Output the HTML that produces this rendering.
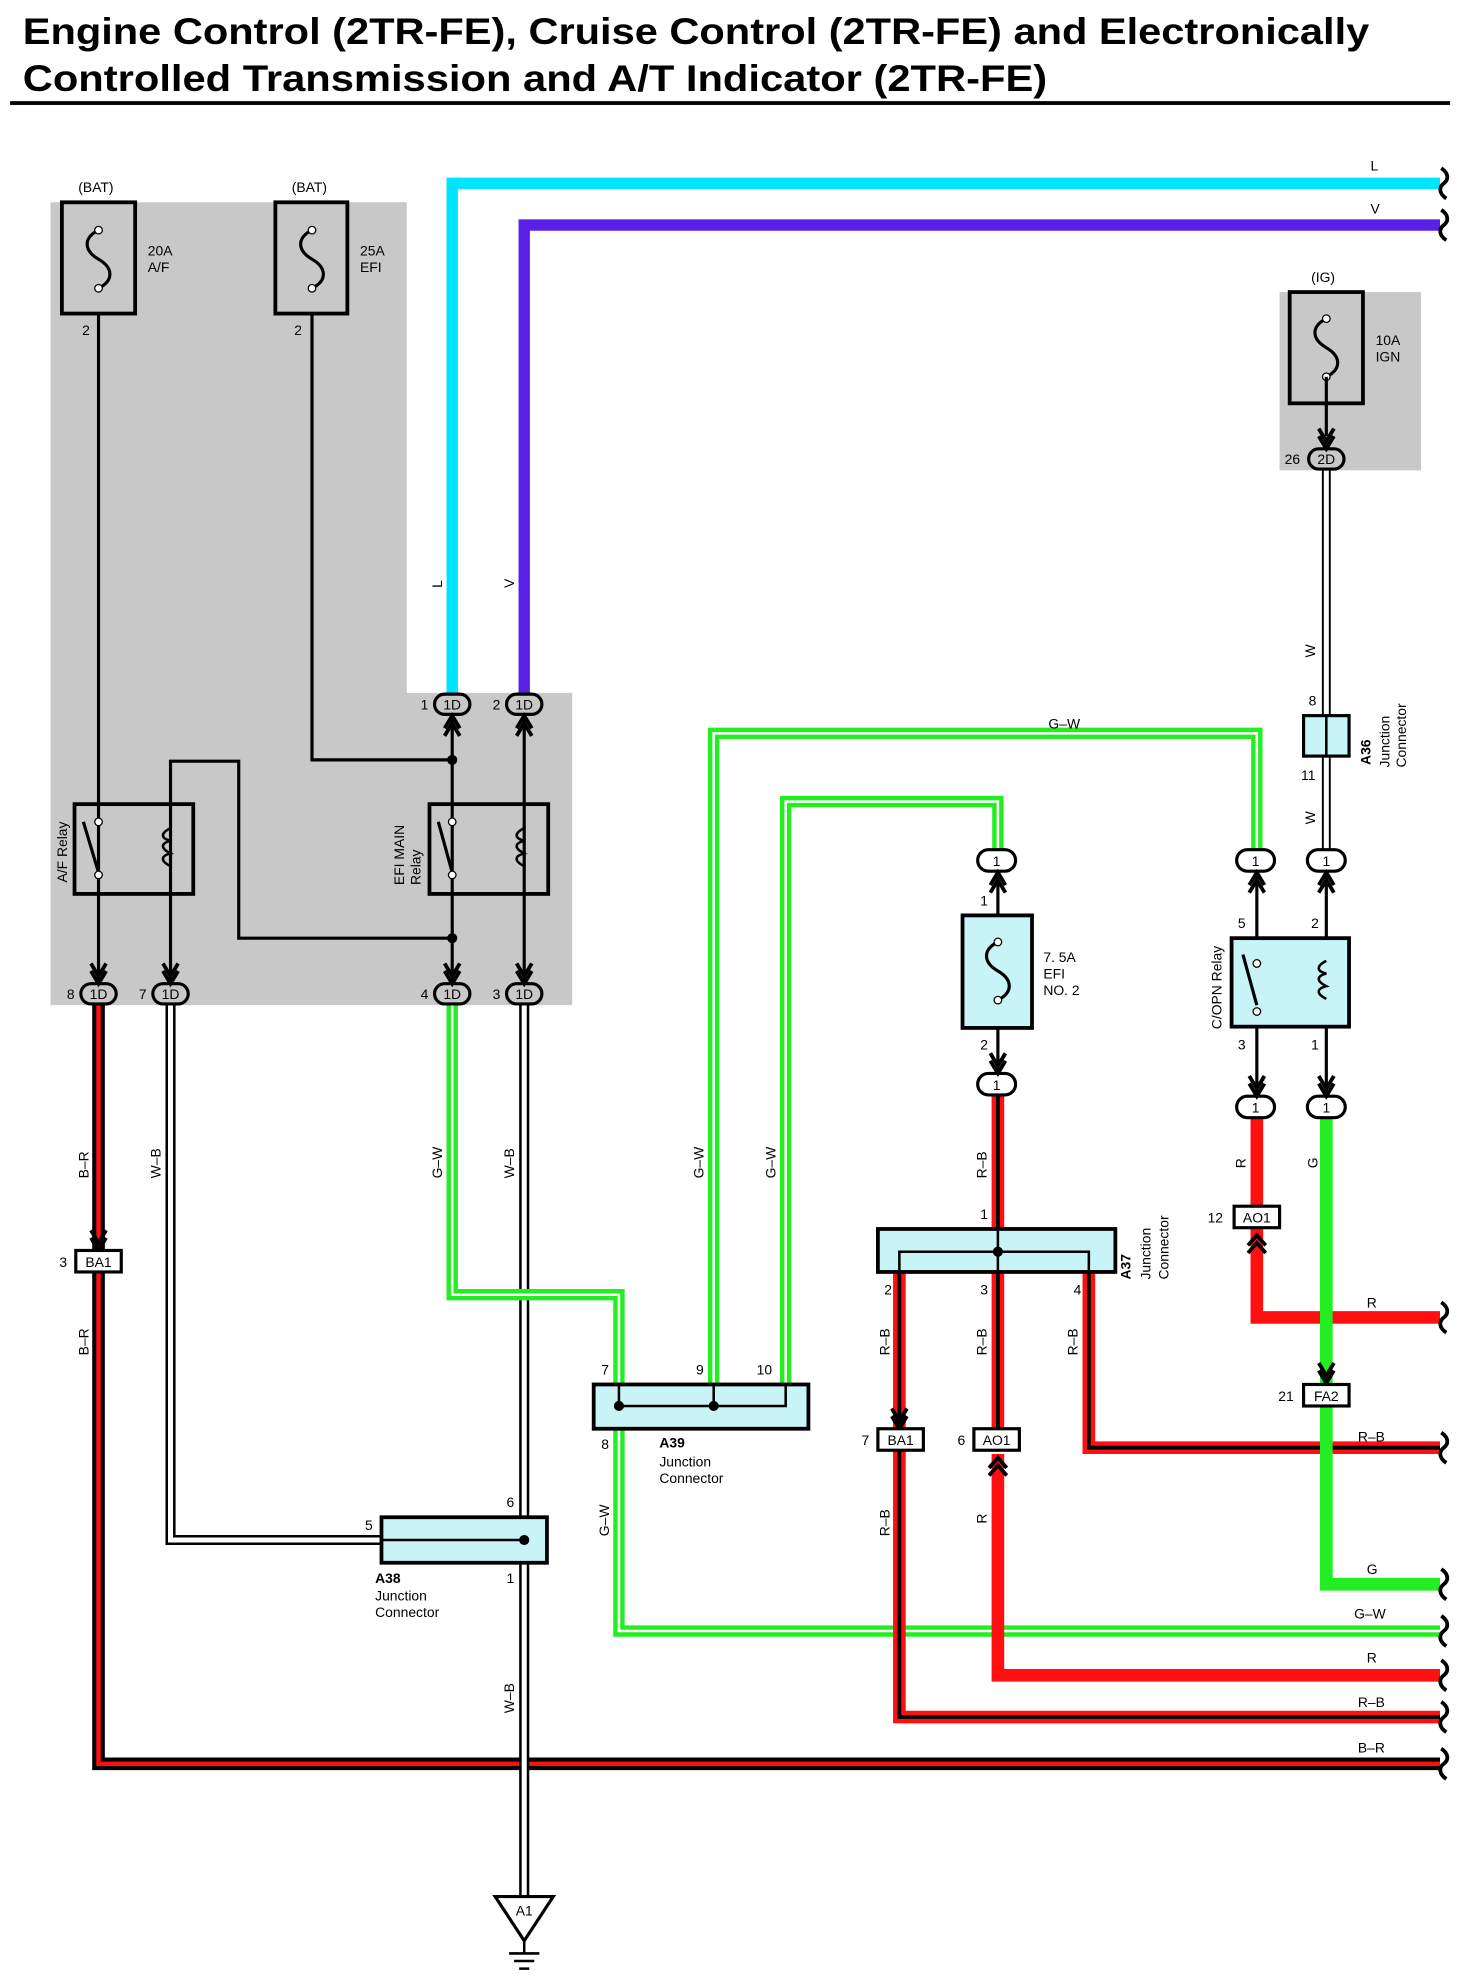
<!DOCTYPE html>
<html><head><meta charset="utf-8"><style>
html,body{margin:0;padding:0;background:#fff;}
svg{display:block;}
text{font-family:"Liberation Sans",sans-serif;}
</style></head><body>
<svg width="1464" height="1980" viewBox="0 0 1159 1566" preserveAspectRatio="none" xmlns="http://www.w3.org/2000/svg">
<defs>
<g id="wave"><path d="M0,-12 C6,-8 6,-3 2,0 C-2,3 -2,8 4,12" fill="none" stroke="#000" stroke-width="3"/></g>
<g id="arU"><path d="M-6,8 L0,-2 L6,8 M-6,14 L0,4 L6,14" fill="none" stroke="#000" stroke-width="3"/></g>
<g id="arD"><path d="M-6,-8 L0,2 L6,-8 M-6,-14 L0,-4 L6,-14" fill="none" stroke="#000" stroke-width="3"/></g>
</defs>
<text x="18" y="35" font-size="29" font-weight="bold" textLength="1066" lengthAdjust="spacingAndGlyphs">Engine Control (2TR-FE), Cruise Control (2TR-FE) and Electronically</text>
<text x="18" y="72" font-size="29" font-weight="bold" textLength="811" lengthAdjust="spacingAndGlyphs">Controlled Transmission and A/T Indicator (2TR-FE)</text>
<rect x="8" y="80" width="1140" height="3" fill="#000"/>

<!-- gray boxes -->
<path d="M40,160 H322 V548 H453 V795 H40 Z" fill="#c8c8c8"/>
<rect x="1013" y="231" width="112" height="141" fill="#c8c8c8"/>

<g font-size="11">
<path d="M358,548 V145 H1140" fill="none" stroke="#00e5ff" stroke-width="9"/>
<path d="M415,548 V178 H1140" fill="none" stroke="#5a20e8" stroke-width="9"/>
<text x="1085" y="135">L</text><text x="1085" y="169">V</text>
<text x="350" y="465" transform="rotate(-90 350 465)">L</text>
<text x="407" y="465" transform="rotate(-90 407 465)">V</text>

<text x="62" y="152">(BAT)</text><text x="231" y="152">(BAT)</text>
<rect x="49" y="160" width="58" height="88" fill="none" stroke="#000" stroke-width="3"/>
<rect x="218" y="160" width="57" height="88" fill="none" stroke="#000" stroke-width="3"/>
<path d="M78,182 C66,188 66,198 78,205 C90,212 90,222 78,228" fill="none" stroke="#000" stroke-width="2.5"/>
<path d="M247,182 C235,188 235,198 247,205 C259,212 259,222 247,228" fill="none" stroke="#000" stroke-width="2.5"/>
<circle cx="78" cy="182" r="3" fill="#fff" stroke="#000"/><circle cx="78" cy="228" r="3" fill="#fff" stroke="#000"/>
<circle cx="247" cy="182" r="3" fill="#fff" stroke="#000"/><circle cx="247" cy="228" r="3" fill="#fff" stroke="#000"/>
<text x="117" y="202">20A</text><text x="117" y="215">A/F</text>
<text x="285" y="202">25A</text><text x="285" y="215">EFI</text>
<text x="65" y="265">2</text><text x="233" y="265">2</text>

<path d="M78,248 V776 M247,248 V601 H358 M135,776 V602 H189 V742 H358 M358,566 V776 M415,566 V776" fill="none" stroke="#000" stroke-width="2.5"/>
<circle cx="358" cy="601" r="4"/><circle cx="358" cy="742" r="4"/>

<rect x="59" y="636" width="94" height="71" fill="none" stroke="#000" stroke-width="3"/>
<rect x="340" y="636" width="94" height="71" fill="none" stroke="#000" stroke-width="3"/>
<path d="M66,650 L78,690" stroke="#000" stroke-width="2.5"/>
<path d="M347,650 L358,690" stroke="#000" stroke-width="2.5"/>
<circle cx="78" cy="650" r="3" fill="#fff" stroke="#000"/><circle cx="78" cy="692" r="3" fill="#fff" stroke="#000"/>
<circle cx="358" cy="650" r="3" fill="#fff" stroke="#000"/><circle cx="358" cy="692" r="3" fill="#fff" stroke="#000"/>
<path d="M135,655 c-8,4 -8,8 0,10 c-8,2 -8,6 0,10 c-8,2 -8,6 0,10" fill="none" stroke="#000" stroke-width="2"/>
<path d="M415,655 c-8,4 -8,8 0,10 c-8,2 -8,6 0,10 c-8,2 -8,6 0,10" fill="none" stroke="#000" stroke-width="2"/>
<text x="53" y="698" transform="rotate(-90 53 698)">A/F Relay</text>
<text x="320" y="700" transform="rotate(-90 320 700)">EFI MAIN</text>
<text x="333" y="700" transform="rotate(-90 333 700)">Relay</text>

<path d="M78,795 V1395 H1140" fill="none" stroke="#000" stroke-width="10"/>
<path d="M78,795 V1395 H1140" fill="none" stroke="#ff1010" stroke-width="3.5"/>
<path d="M135,795 V1218 H302" fill="none" stroke="#000" stroke-width="8"/>
<path d="M135,795 V1218 H302" fill="none" stroke="#fff" stroke-width="4"/>
<path d="M415,795 V1500" fill="none" stroke="#000" stroke-width="8"/>
<path d="M415,795 V1500" fill="none" stroke="#fff" stroke-width="4"/>
<path d="M358,795 V1024 H490 V1095 M490,1130 V1290 H1140 M565,1095 V580 H995 V672 M622,1095 V634 H790 V672" fill="none" stroke="#22ee22" stroke-width="9"/>
<path d="M358,795 V1024 H490 V1095 M490,1130 V1290 H1140 M565,1095 V580 H995 V672 M622,1095 V634 H790 V672" fill="none" stroke="#fff" stroke-width="2"/>
<path d="M790,866 V972 M712,1006 V1358 H1140 M790,1006 V1130 M862,1006 V1145 H1140" fill="none" stroke="#ff1010" stroke-width="10"/>
<path d="M790,866 V972 M712,1006 V1358 H1140 M790,1006 V1130 M862,1006 V1145 H1140" fill="none" stroke="#000" stroke-width="3"/>
<path d="M790,1150 V1325 H1140 M995,884 V955 M995,972 V1042 H1140" fill="none" stroke="#ff1010" stroke-width="10"/>
<path d="M1050,884 V1253 H1140" fill="none" stroke="#22ee22" stroke-width="10"/>
<path d="M1050,372 V672" fill="none" stroke="#000" stroke-width="7"/>
<path d="M1050,372 V672" fill="none" stroke="#fff" stroke-width="4"/>

<g stroke="#000" stroke-width="2.5" fill="#c8c8c8">
<rect x="344" y="549" width="28" height="16" rx="8"/><rect x="401" y="549" width="28" height="16" rx="8"/>
<rect x="64" y="778" width="28" height="16" rx="8"/><rect x="121" y="778" width="28" height="16" rx="8"/>
<rect x="344" y="778" width="28" height="16" rx="8"/><rect x="401" y="778" width="28" height="16" rx="8"/>
<rect x="1036" y="355" width="28" height="16" rx="8"/>
</g>
<g font-size="11" text-anchor="middle">
<text x="358" y="561">1D</text><text x="415" y="561">1D</text>
<text x="78" y="790">1D</text><text x="135" y="790">1D</text><text x="358" y="790">1D</text><text x="415" y="790">1D</text>
<text x="1050" y="367">2D</text>
</g>
<text x="333" y="561">1</text><text x="390" y="561">2</text>
<text x="53" y="790">8</text><text x="110" y="790">7</text><text x="333" y="790">4</text><text x="390" y="790">3</text>
<text x="1017" y="367">26</text>
<use href="#arU" x="358" y="568"/><use href="#arU" x="415" y="568"/>
<use href="#arD" x="78" y="776"/><use href="#arD" x="135" y="776"/><use href="#arD" x="358" y="776"/><use href="#arD" x="415" y="776"/>
<use href="#arD" x="1050" y="353"/>

<text x="1038" y="223">(IG)</text>
<rect x="1021" y="231" width="58" height="88" fill="none" stroke="#000" stroke-width="3"/>
<path d="M1050,252 C1038,258 1038,268 1050,275 C1062,282 1062,292 1050,298" fill="none" stroke="#000" stroke-width="2.5"/>
<circle cx="1050" cy="252" r="3" fill="#fff" stroke="#000"/><circle cx="1050" cy="298" r="3" fill="#fff" stroke="#000"/>
<path d="M1050,298 V345" stroke="#000" stroke-width="2.5"/>
<text x="1089" y="273">10A</text><text x="1089" y="286">IGN</text>

<rect x="1032" y="566" width="36" height="32" fill="#c8f4f8" stroke="#000" stroke-width="2.5"/>
<path d="M1050,566 V598" stroke="#000" stroke-width="2"/>
<text x="1036" y="558">8</text><text x="1030" y="617">11</text>
<text x="1041" y="520" transform="rotate(-90 1041 520)">W</text>
<text x="1041" y="652" transform="rotate(-90 1041 652)">W</text>
<text x="1085" y="605" font-weight="bold" transform="rotate(-90 1085 605)">A36</text>
<text x="1100" y="607" transform="rotate(-90 1100 607)">Junction</text>
<text x="1113" y="607" transform="rotate(-90 1113 607)">Connector</text>
<text x="830" y="576">G–W</text>

<g stroke="#000" stroke-width="2.5" fill="#fff">
<rect x="774" y="672" width="30" height="17" rx="8.5"/><rect x="774" y="849" width="30" height="17" rx="8.5"/>
<rect x="979" y="672" width="30" height="17" rx="8.5"/><rect x="1035" y="672" width="30" height="17" rx="8.5"/>
<rect x="979" y="867" width="30" height="17" rx="8.5"/><rect x="1035" y="867" width="30" height="17" rx="8.5"/>
</g>
<g text-anchor="middle"><text x="789" y="685">1</text><text x="789" y="862">1</text><text x="994" y="685">1</text><text x="1050" y="685">1</text><text x="994" y="880">1</text><text x="1050" y="880">1</text></g>
<path d="M790,689 V849 M995,689 V867 M1050,689 V867" stroke="#000" stroke-width="2.5"/>
<use href="#arU" x="790" y="692"/><use href="#arD" x="790" y="847"/>
<use href="#arU" x="995" y="692"/><use href="#arU" x="1050" y="692"/>
<use href="#arD" x="995" y="865"/><use href="#arD" x="1050" y="865"/>

<rect x="762" y="724" width="55" height="89" fill="#c8f4f8" stroke="#000" stroke-width="3"/>
<path d="M790,745 C778,751 778,761 790,768 C802,775 802,785 790,791" fill="#c8f4f8" stroke="#000" stroke-width="2.5"/>
<circle cx="790" cy="745" r="3" fill="#fff" stroke="#000"/><circle cx="790" cy="791" r="3" fill="#fff" stroke="#000"/>
<text x="826" y="761">7. 5A</text><text x="826" y="774">EFI</text><text x="826" y="787">NO. 2</text>
<text x="776" y="716">1</text><text x="776" y="830">2</text>

<rect x="975" y="742" width="93" height="70" fill="#c8f4f8" stroke="#000" stroke-width="3"/>
<path d="M984,755 L995,795" stroke="#000" stroke-width="2.5"/>
<circle cx="995" cy="762" r="3" fill="#fff" stroke="#000"/><circle cx="995" cy="800" r="3" fill="#fff" stroke="#000"/>
<path d="M1050,760 c-8,4 -8,8 0,10 c-8,2 -8,6 0,10 c-8,2 -8,6 0,10" fill="none" stroke="#000" stroke-width="2"/>
<text x="980" y="734">5</text><text x="1038" y="734">2</text><text x="980" y="830">3</text><text x="1038" y="830">1</text>
<text x="967" y="814" transform="rotate(-90 967 814)">C/OPN Relay</text>

<rect x="977" y="954" width="36" height="17" fill="#fff" stroke="#000" stroke-width="2.5"/>
<text x="995" y="967" text-anchor="middle">AO1</text><text x="956" y="967">12</text>
<path d="M988,985 L995,977 L1002,985 M988,991 L995,983 L1002,991" fill="none" stroke="#000" stroke-width="3"/>
<use href="#arD" x="1050" y="1092"/>
<rect x="1032" y="1095" width="36" height="17" fill="#fff" stroke="#000" stroke-width="2.5"/>
<text x="1050" y="1108" text-anchor="middle">FA2</text><text x="1012" y="1108">21</text>
<text x="986" y="924" transform="rotate(-90 986 924)">R</text>
<text x="1043" y="924" transform="rotate(-90 1043 924)">G</text>
<text x="1082" y="1034">R</text>

<rect x="695" y="972" width="188" height="34" fill="#c8f4f8" stroke="#000" stroke-width="3"/>
<path d="M712,1006 V990 H862 V1006 M790,972 V1006" fill="none" stroke="#000" stroke-width="2"/>
<circle cx="790" cy="990" r="4"/>
<text x="776" y="964">1</text><text x="700" y="1024">2</text><text x="776" y="1024">3</text><text x="850" y="1024">4</text>
<text x="895" y="1012" font-weight="bold" transform="rotate(-90 895 1012)">A37</text>
<text x="911" y="1012" transform="rotate(-90 911 1012)">Junction</text>
<text x="925" y="1012" transform="rotate(-90 925 1012)">Connector</text>
<text x="781" y="932" transform="rotate(-90 781 932)">R–B</text>
<text x="704" y="1072" transform="rotate(-90 704 1072)">R–B</text>
<text x="781" y="1072" transform="rotate(-90 781 1072)">R–B</text>
<text x="853" y="1072" transform="rotate(-90 853 1072)">R–B</text>
<text x="704" y="1215" transform="rotate(-90 704 1215)">R–B</text>
<text x="781" y="1205" transform="rotate(-90 781 1205)">R</text>
<use href="#arD" x="712" y="1128"/>
<rect x="695" y="1130" width="36" height="17" fill="#fff" stroke="#000" stroke-width="2.5"/>
<text x="713" y="1143" text-anchor="middle">BA1</text><text x="682" y="1143">7</text>
<rect x="771" y="1130" width="36" height="17" fill="#fff" stroke="#000" stroke-width="2.5"/>
<text x="789" y="1143" text-anchor="middle">AO1</text><text x="758" y="1143">6</text>
<path d="M783,1161 L790,1153 L797,1161 M783,1167 L790,1159 L797,1167" fill="none" stroke="#000" stroke-width="3"/>

<rect x="470" y="1095" width="170" height="35" fill="#c8f4f8" stroke="#000" stroke-width="3"/>
<path d="M490,1095 V1112 H622 V1095 M565,1095 V1112" fill="none" stroke="#000" stroke-width="2"/>
<circle cx="490" cy="1112" r="4"/><circle cx="565" cy="1112" r="4"/>
<text x="476" y="1087">7</text><text x="551" y="1087">9</text><text x="599" y="1087">10</text><text x="476" y="1146">8</text>
<text x="522" y="1145" font-weight="bold">A39</text><text x="522" y="1160">Junction</text><text x="522" y="1173">Connector</text>

<rect x="302" y="1200" width="131" height="36" fill="#c8f4f8" stroke="#000" stroke-width="3"/>
<path d="M302,1218 H415" stroke="#000" stroke-width="2"/><circle cx="415" cy="1218" r="4"/>
<text x="289" y="1210">5</text><text x="401" y="1192">6</text><text x="401" y="1252">1</text>
<text x="297" y="1252" font-weight="bold">A38</text><text x="297" y="1266">Junction</text><text x="297" y="1279">Connector</text>

<use href="#arD" x="78" y="987"/>
<rect x="60" y="989" width="36" height="17" fill="#fff" stroke="#000" stroke-width="2.5"/>
<text x="78" y="1002" text-anchor="middle">BA1</text><text x="47" y="1002">3</text>

<text x="70" y="932" transform="rotate(-90 70 932)">B–R</text>
<text x="70" y="1072" transform="rotate(-90 70 1072)">B–R</text>
<text x="127" y="932" transform="rotate(-90 127 932)">W–B</text>
<text x="350" y="932" transform="rotate(-90 350 932)">G–W</text>
<text x="407" y="932" transform="rotate(-90 407 932)">W–B</text>
<text x="557" y="932" transform="rotate(-90 557 932)">G–W</text>
<text x="614" y="932" transform="rotate(-90 614 932)">G–W</text>
<text x="482" y="1215" transform="rotate(-90 482 1215)">G–W</text>
<text x="407" y="1355" transform="rotate(-90 407 1355)">W–B</text>

<text x="1075" y="1140">R–B</text><text x="1082" y="1245">G</text><text x="1072" y="1280">G–W</text>
<text x="1082" y="1315">R</text><text x="1075" y="1350">R–B</text><text x="1075" y="1386">B–R</text>

<use href="#wave" x="1141" y="145"/><use href="#wave" x="1141" y="178"/>
<use href="#wave" x="1141" y="1042"/><use href="#wave" x="1141" y="1145"/><use href="#wave" x="1141" y="1253"/>
<use href="#wave" x="1141" y="1290"/><use href="#wave" x="1141" y="1325"/><use href="#wave" x="1141" y="1358"/><use href="#wave" x="1141" y="1395"/>

<path d="M392,1500 H438 L415,1535 Z" fill="#fff" stroke="#000" stroke-width="2.5"/>
<text x="415" y="1515" text-anchor="middle">A1</text>
<path d="M415,1535 V1545 M403,1545 H427 M407,1551 H423 M411,1557 H419" stroke="#000" stroke-width="2"/>
</g>
</svg>
</body></html>
